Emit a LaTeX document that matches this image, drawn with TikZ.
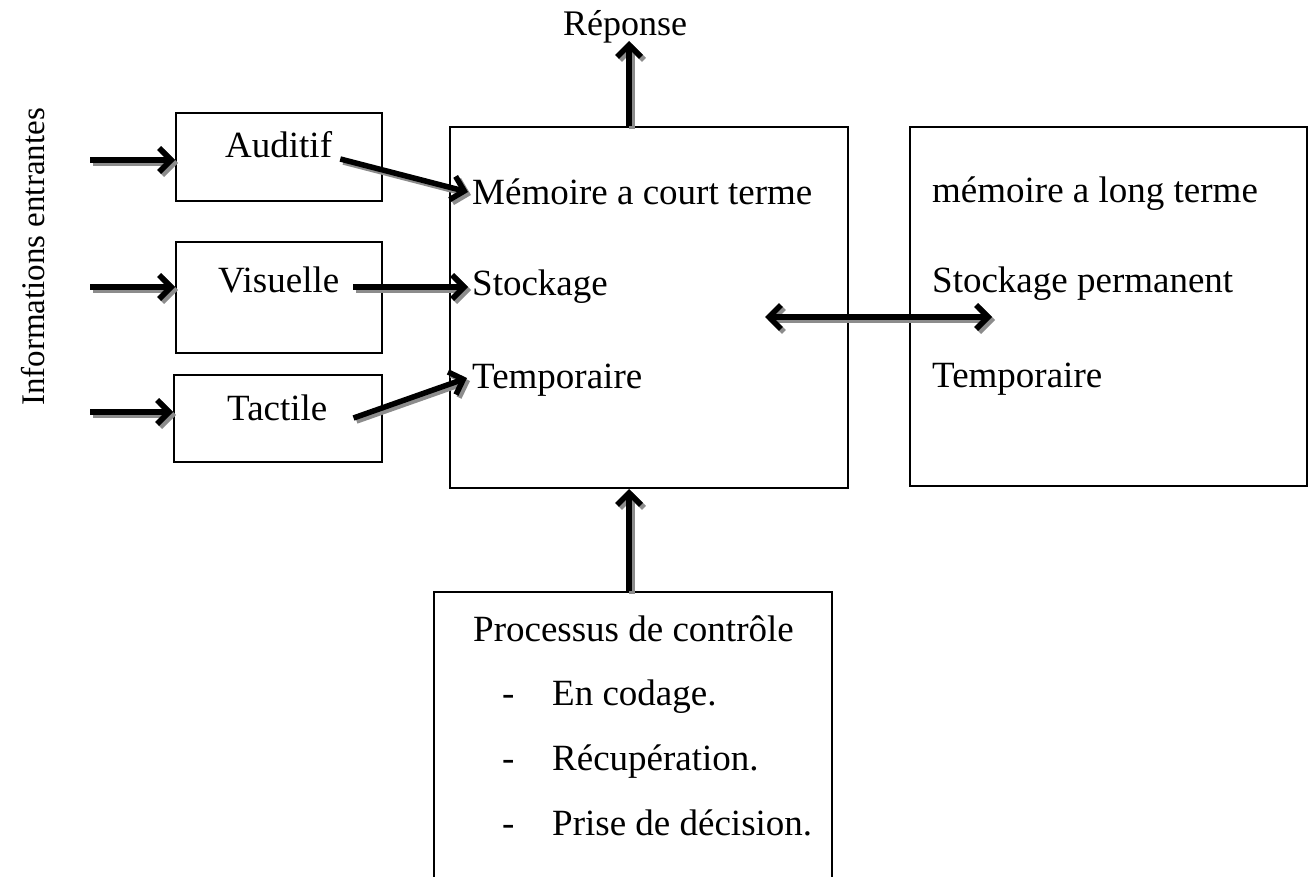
\documentclass[tikz,border=0pt]{standalone}
\usepackage{fontspec}
\setmainfont{Liberation Serif}
\usetikzlibrary{arrows.meta,calc}
\begin{document}
\begin{tikzpicture}[x=1pt,y=-1pt,
  box/.style={draw,line width=2pt,rectangle,inner sep=0pt},
  txt/.style={inner sep=0pt,anchor=base west,text height=26pt,text depth=0pt,
    font=\fontsize{37}{44}\selectfont},
  barb/.tip={Straight Barb[length=12pt,width=24pt]},
  shadowed/.style={line width=5.5pt,
    preaction={draw=black!45,line width=5.5pt,transform canvas={shift={(3,3)}}}},
  flow/.style={shadowed,-barb},
  flowboth/.style={shadowed,barb-barb}
]
\useasboundingbox (0,0) rectangle (1309,877);

% sensory registers
\node[box,minimum width=206pt,minimum height=88pt]  (aud) at (279,157) {};
\node[box,minimum width=206pt,minimum height=111pt] (vis) at (279,297.5) {};
\node[box,minimum width=208pt,minimum height=87pt]  (tac) at (278,418.5) {};
\node[txt] (audt) at (225,158) {Auditif};
\node[txt] (vist) at (218,293) {Visuelle};
\node[txt] (tact) at (227,420) {Tactile};

% short-term memory
\node[box,minimum width=398pt,minimum height=361pt] (stm) at (649,307.5) {};
\node[txt] (stm1) at (472,205) {Mémoire a court terme};
\node[txt] (stm2) at (472,295) {Stockage};
\node[txt] (stm3) at (472,388) {Temporaire};

% long-term memory
\node[box,minimum width=397pt,minimum height=359pt] (ltm) at (1108.5,306.5) {};
\node[txt] (ltm1) at (932,203) {mémoire a long terme};
\node[txt] (ltm2) at (932,293) {Stockage permanent};
\node[txt] (ltm3) at (932,387) {Temporaire};

% control processes
\node[box,minimum width=398pt,minimum height=320pt] (ctl) at (633,752) {};
\node[txt] (ctl0) at (473,641) {Processus de contrôle};
\node[txt] (d1) at (502,705) {-};
\node[txt] (d2) at (502,770) {-};
\node[txt] (d3) at (502,835) {-};
\node[txt] (c1) at (552,705) {En codage.};
\node[txt] (c2) at (552,770) {Récupération.};
\node[txt] (c3) at (552,835) {Prise de décision.};

% labels
\node[inner sep=0pt,anchor=base west,font=\fontsize{36}{42}\selectfont] (rep) at (563,36) {Réponse};
\node[inner sep=0pt,anchor=base,rotate=90,font=\fontsize{33}{40}\selectfont] (info) at (44,257) {Informations entrantes};

% free ends
\coordinate (ia) at (90,160);
\coordinate (iv) at (90,287);
\coordinate (it) at (90,412);
\coordinate (rtip) at (629,41);
\coordinate (dl) at (765,317);
\coordinate (dr) at (992,317);

% incoming information
\draw[flow] (ia) -- (ia -| aud.west);
\draw[flow] (iv) -- (iv -| vis.west);
\draw[flow] (it) -- (it -| tac.west);

% registers to short-term memory
\draw[flow] ($(audt.base east)+(8,1)$) -- ($(stm1.west)+(-4,0)$);
\draw[flow] ($(vist.base east)+(14,-6)$) -- ($(stm2.west)+(-4,5)$);
\draw[flow] ($(tact.base east)+(26,-2)$) -- ($(stm3.west)+(-5,3)$);

% response, control and exchange with long-term memory
\draw[flow] (stm.north -| rtip) -- (rtip);
\draw[flow] (ctl.north -| rtip) -- (stm.south -| rtip);
\draw[flowboth] (dl) -- (dr);
\end{tikzpicture}
\end{document}
